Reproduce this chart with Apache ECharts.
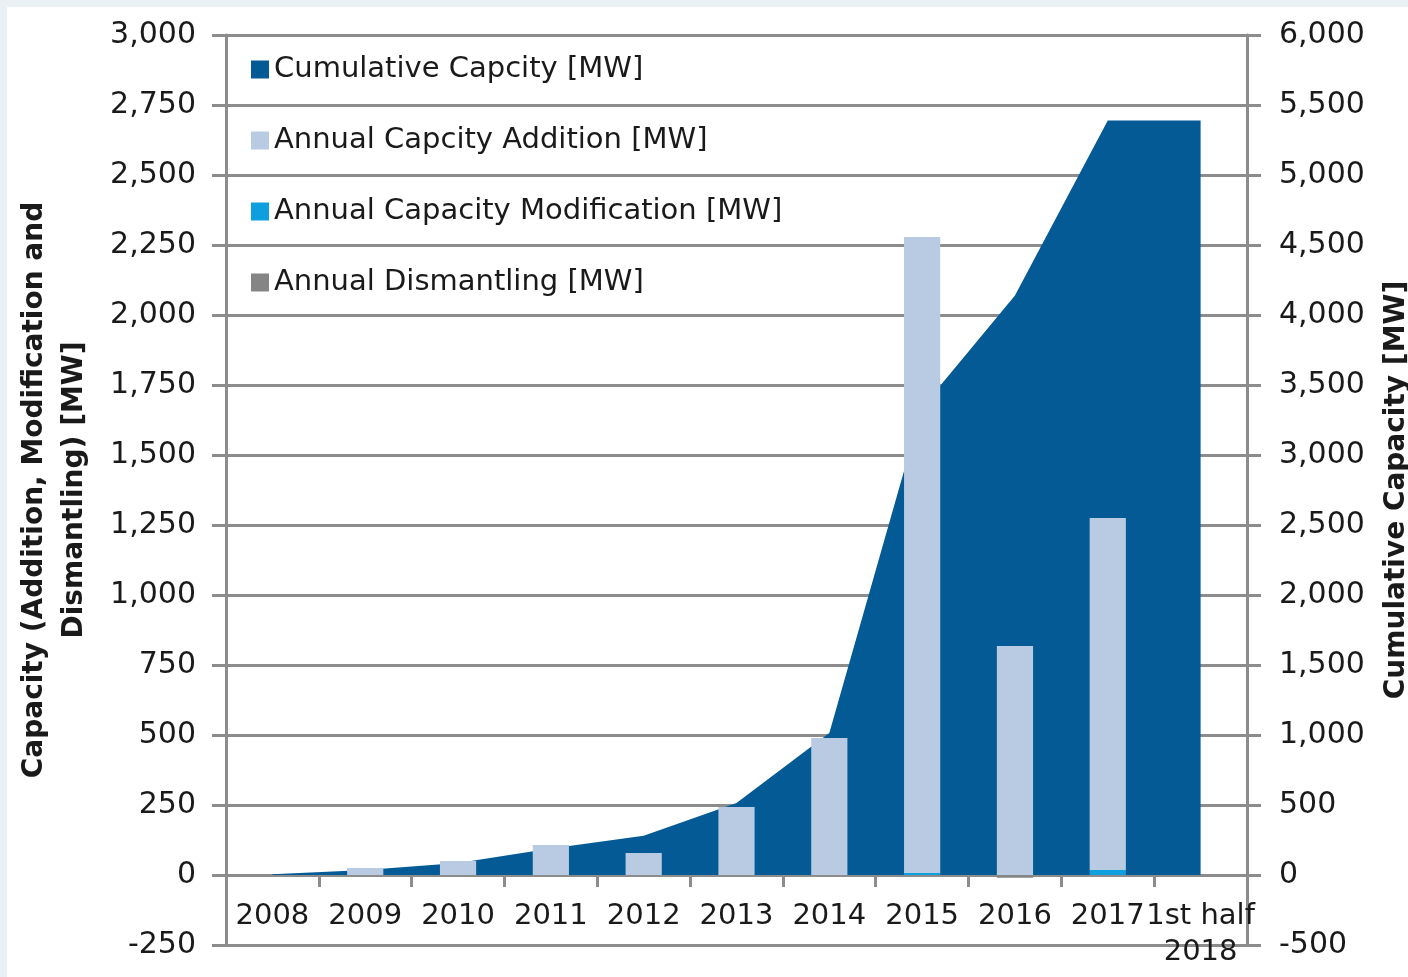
<!DOCTYPE html>
<html>
<head>
<meta charset="utf-8">
<script src="https://cdn.jsdelivr.net/npm/echarts@6/dist/echarts.min.js"></script>
<style>
  html, body { margin: 0; padding: 0; background: #e9f1f5; width: 1408px; height: 977px; overflow: hidden; }
  #main { position: absolute; left: 7px; top: 7px; width: 1401px; height: 970px; background: #fff; }
</style>
</head>
<body>
<div id="main"></div>
<script>
var years = ['2008', '2009', '2010', '2011', '2012', '2013', '2014', '2015', '2016', '2017', '1st half\n2018'];
var cumulative = [5, 35, 85, 190, 280, 515, 1015, 3340, 4140, 5390, 5390];
var addition = [0, 25, 50, 107, 79, 243, 489, 2272, 818, 1257, 0];
var modification = [0, 0, 0, 0, 0, 0, 0, 7, 0, 18, 0];
var dismantling = [0, 0, 0, 0, 0, 0, 0, 0, -10, 0, 0];

var gridGray = '#8c8c8c';
var font = 'DejaVu Sans';

var myChart = echarts.init(document.getElementById('main'));

var option = {
	backgroundColor: '#fff',
	animation: false,
	textStyle: { fontFamily: font },
	grid: { left: 219, right: 161, top: 28, bottom: 32, outerBoundsMode: 'none', containLabel: false },
	legend: {
		data: ['Cumulative Capcity [MW]', 'Annual Capcity Addition [MW]', 'Annual Capacity Modification [MW]', 'Annual Dismantling [MW]'],
		orient: 'vertical',
		left: 239,
		top: 43,
		itemGap: 42,
		itemWidth: 18,
		itemHeight: 18,
		icon: 'rect',
		textStyle: { fontFamily: font, fontSize: 29, color: '#1a1a1a', padding: [0, 0, 0, 0] }
	},
	xAxis: {
		type: 'category',
		data: years,
		axisLine: { onZero: true, lineStyle: { color: gridGray, width: 3 } },
		axisTick: { show: true, length: 12, lineStyle: { color: gridGray, width: 3 } },
		axisLabel: { color: '#1a1a1a', fontSize: 29, margin: -47, lineHeight: 36, interval: 0 }
	},
	yAxis: [
		{
			type: 'value',
			min: -250,
			max: 3000,
			interval: 250,
			name: 'Capacity (Addition, Modification and\nDismantling) [MW]',
			nameLocation: 'middle',
			nameGap: 131,
			nameRotate: 90,
			nameTextStyle: { fontSize: 28, fontWeight: 'bold', color: '#1a1a1a', lineHeight: 40 },
			axisLine: { show: true, lineStyle: { color: gridGray, width: 3 } },
			axisTick: { show: true, length: 14, lineStyle: { color: gridGray, width: 3 } },
			axisLabel: {
				color: '#1a1a1a', fontSize: 30, margin: 30,
				formatter: function (v) { return v.toLocaleString('en-US'); }
			},
			splitLine: { show: true, lineStyle: { color: gridGray, width: 3 } }
		},
		{
			type: 'value',
			min: -500,
			max: 6000,
			interval: 500,
			position: 'right',
			name: 'Cumulative Capacity [MW]',
			nameLocation: 'middle',
			nameGap: 136,
			nameRotate: 90,
			nameTextStyle: { fontSize: 28, fontWeight: 'bold', color: '#1a1a1a' },
			axisLine: { show: true, lineStyle: { color: gridGray, width: 3 } },
			axisTick: { show: true, length: 14, lineStyle: { color: gridGray, width: 3 } },
			axisLabel: {
				color: '#1a1a1a', fontSize: 30, margin: 32,
				formatter: function (v) { return v.toLocaleString('en-US'); }
			},
			splitLine: { show: false }
		}
	],
	series: [
		{
			name: 'Cumulative Capcity [MW]',
			type: 'line',
			yAxisIndex: 1,
			data: cumulative,
			symbol: 'none',
			lineStyle: { width: 0 },
			itemStyle: { color: '#035a94' },
			areaStyle: { color: '#035a94', opacity: 1 },
			z: 1
		},
		{
			name: 'Annual Capacity Modification [MW]',
			type: 'bar',
			stack: 'annual',
			data: modification,
			barWidth: '39%',
			itemStyle: { color: '#0e9fde' },
			z: 3
		},
		{
			name: 'Annual Capcity Addition [MW]',
			type: 'bar',
			stack: 'annual',
			data: addition,
			barWidth: '39%',
			itemStyle: { color: '#b8cbe3' },
			z: 3
		},
		{
			name: 'Annual Dismantling [MW]',
			type: 'bar',
			stack: 'annual',
			data: dismantling,
			barWidth: '39%',
			itemStyle: { color: '#858585' },
			z: 3
		}
	]
};

myChart.setOption(option);
</script>
</body>
</html>
